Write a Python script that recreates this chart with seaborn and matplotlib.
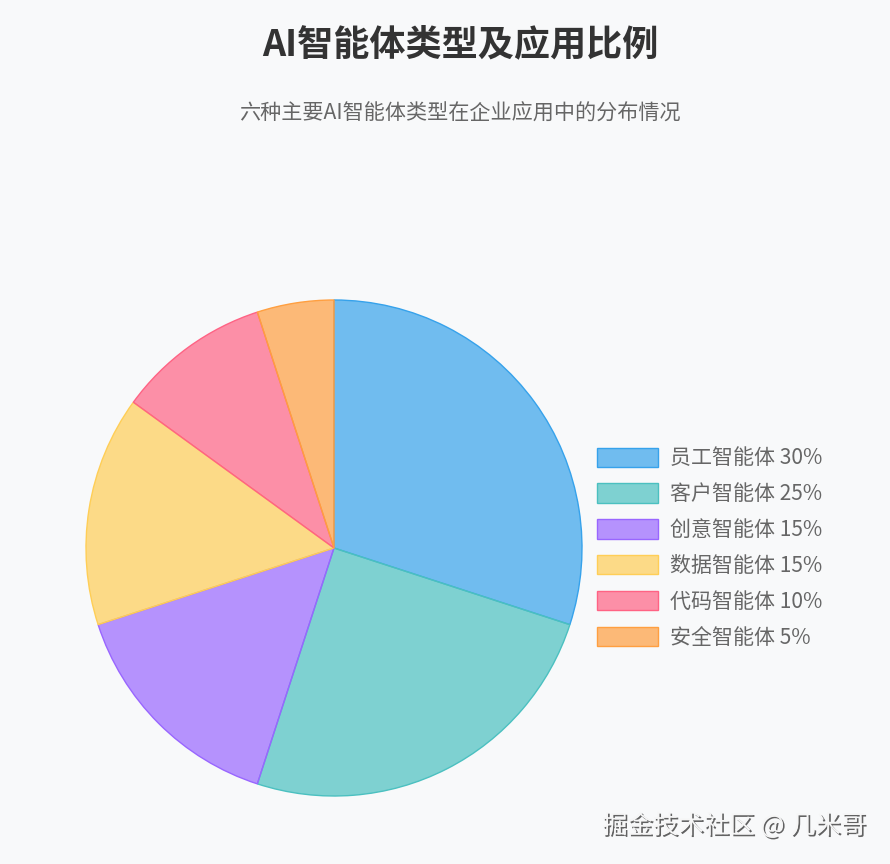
import matplotlib
matplotlib.use("Agg")
import matplotlib.pyplot as plt
import matplotlib.patheffects as pe
from matplotlib.patches import Patch
import seaborn as sns

# data
names = ["员工智能体", "客户智能体", "创意智能体", "数据智能体", "代码智能体", "安全智能体"]
shares = [30, 25, 15, 15, 10, 5]
edge_colors = ["#36a2eb", "#4bc0c0", "#9966ff", "#ffce56", "#ff6384", "#ff9f40"]

sns.set_theme(style="white")
plt.rcParams["font.family"] = ["Noto Sans CJK SC", "DejaVu Sans"]

bg = "#f8f9fa"
fig = plt.figure(figsize=(8.9, 8.64), dpi=100, facecolor=bg)

fill_colors = [(*c, 0.7) for c in sns.color_palette(edge_colors)]

# pie axes: centre (334, 548) px, radius 248 px
ax = fig.add_axes([86 / 890, 68 / 864, 496 / 890, 496 / 864])
ax.set_facecolor(bg)
wedges, _ = ax.pie(shares, colors=fill_colors, startangle=90, counterclock=False,
                   radius=1, wedgeprops=dict(linewidth=1.0))
for w, ec in zip(wedges, edge_colors):
    w.set_edgecolor(ec)
ax.set_xlim(-1, 1)
ax.set_ylim(-1, 1)
ax.axis("off")

handles = [Patch(facecolor=fc, edgecolor=ec, linewidth=1.0)
           for fc, ec in zip(fill_colors, edge_colors)]
labels = [f"{n} {s}%" for n, s in zip(names, shares)]
fs = 15.1
fig.legend(handles, labels, loc="center left",
           bbox_to_anchor=(597 / 890, 1 - 548 / 864),
           frameon=False, fontsize=fs, labelcolor="#666666",
           handlelength=61 / (fs * 100 / 72), handleheight=22 / (fs * 100 / 72),
           handletextpad=0.55, labelspacing=0.66,
           borderpad=0, borderaxespad=0)

fig.text(460 / 890, 1 - 45 / 864, "AI智能体类型及应用比例", ha="center", va="center",
         fontsize=26, fontweight="bold", color="#333333")
fig.text(460 / 890, 1 - 114 / 864, "六种主要AI智能体类型在企业应用中的分布情况", ha="center",
         va="center", fontsize=15.2, color="#666666")

fig.text(866 / 890, 1 - 826 / 864, "掘金技术社区 @ 几米哥", ha="right", va="center",
         fontsize=18.3, color="#f6f6f6",
         path_effects=[pe.withSimplePatchShadow(offset=(1.2, -1.2), shadow_rgbFace="#222222", alpha=0.7)])

fig.savefig("out.png", dpi=100, facecolor=bg)
